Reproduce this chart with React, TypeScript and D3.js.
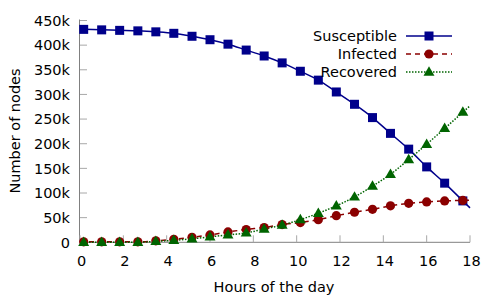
import React, { useRef, useEffect } from 'react';
import * as d3 from 'd3';

// hours at which each sample was taken
const hours = [0.17, 1.0, 1.83, 2.67, 3.5, 4.33, 5.17, 6.0, 6.83, 7.67, 8.5, 9.33,
  10.17, 11.0, 11.83, 12.67, 13.5, 14.33, 15.17, 16.0, 16.83, 17.67];

// node counts (thousands)
const susceptible = [432, 431, 430, 429, 427, 424, 418, 411, 402, 390, 378, 364,
  347, 329, 305, 280, 253, 221, 189, 153, 120, 84];
const infected = [1, 1, 1, 1, 3, 6, 10, 15, 21, 26, 30, 36,
  40, 46, 54, 61, 67, 74, 79, 82, 84, 85];
const recovered = [0, 0, 0, 0, 2, 4, 7, 11, 15, 19, 27, 35,
  46, 59, 74, 92, 114, 138, 168, 199, 231, 264];

const xTicks = [0, 2, 4, 6, 8, 10, 12, 14, 16, 18];
const yTicks = [0, 50, 100, 150, 200, 250, 300, 350, 400, 450];

const seriesNames = ['Susceptible', 'Infected', 'Recovered'];
const seriesColors = ['#00008b', '#8b0000', '#006400'];
const seriesDash = [null, '5,4', '1.5,1.5'];
const seriesMarker = ['square', 'circle', 'triangle'];

const App = () => {
  const svgRef = useRef<SVGSVGElement>(null);
  const width = 498;
  const height = 299;

  useEffect(() => {
    const svg = d3.select(svgRef.current);
    svg.selectAll('*').remove();

    const font = 'DejaVu Sans, sans-serif';
    const fs = 14.5;

    const x = d3.scaleLinear().domain([0, 18]).range([80, 470]);
    const y = d3.scaleLinear().domain([0, 450]).range([242.3, 20.5]);

    // axes (left and bottom only, ticks pointing inward)
    const axis = svg.append('g');
    axis.append('line')
      .attr('x1', x(0) - 0.5).attr('x2', x(0) - 0.5)
      .attr('y1', y(450) - 1).attr('y2', y(0))
      .attr('stroke', '#808080').attr('stroke-width', 1);
    axis.append('line')
      .attr('x1', x(0) - 0.5).attr('x2', x(18))
      .attr('y1', y(0)).attr('y2', y(0))
      .attr('stroke', '#808080').attr('stroke-width', 1);

    yTicks.forEach(t => {
      axis.append('line')
        .attr('x1', x(0)).attr('x2', x(0) + 7)
        .attr('y1', y(t)).attr('y2', y(t))
        .attr('stroke', '#a8a8a8').attr('stroke-width', 1);
      axis.append('text')
        .attr('x', 70).attr('y', y(t))
        .attr('dy', '0.36em')
        .attr('text-anchor', 'end')
        .attr('font-family', font).attr('font-size', fs)
        .attr('fill', '#000')
        .text(t === 0 ? '0' : `${t}k`);
    });

    xTicks.forEach(t => {
      axis.append('line')
        .attr('x1', x(t)).attr('x2', x(t))
        .attr('y1', y(0)).attr('y2', y(0) - 7)
        .attr('stroke', '#a8a8a8').attr('stroke-width', 1);
      axis.append('text')
        .attr('x', x(t) + 1.5).attr('y', 266)
        .attr('text-anchor', 'middle')
        .attr('font-family', font).attr('font-size', fs)
        .attr('fill', '#000')
        .text(t);
    });

    svg.append('text')
      .attr('x', 274).attr('y', 292)
      .attr('text-anchor', 'middle')
      .attr('font-family', font).attr('font-size', fs)
      .text('Hours of the day');

    svg.append('text')
      .attr('transform', `translate(20,131) rotate(-90)`)
      .attr('text-anchor', 'middle')
      .attr('font-family', font).attr('font-size', fs)
      .text('Number of nodes');

    const drawMarker = (g, kind, cx, cy, color) => {
      if (kind === 'square') {
        g.append('rect')
          .attr('x', cx - 4.5).attr('y', cy - 4.5)
          .attr('width', 9).attr('height', 9)
          .attr('fill', color);
      } else if (kind === 'circle') {
        g.append('circle')
          .attr('cx', cx).attr('cy', cy).attr('r', 4.6)
          .attr('fill', color);
      } else {
        const sym = d3.symbol().type(d3.symbolTriangle).size(52);
        g.append('path')
          .attr('transform', `translate(${cx},${cy + 0.5})`)
          .attr('d', sym())
          .attr('fill', color);
      }
    };

    const allSeries = [susceptible, infected, recovered];
    const plot = svg.append('g');

    allSeries.forEach((vals, si) => {
      const pts = hours.map((h, i) => [h, vals[i]]);
      // stretch the curve to both ends of the x range
      const n = pts.length;
      const s0 = (pts[1][1] - pts[0][1]) / (pts[1][0] - pts[0][0]);
      const s1 = (pts[n - 1][1] - pts[n - 2][1]) / (pts[n - 1][0] - pts[n - 2][0]);
      const lineData = [
        [0, Math.max(0, pts[0][1] - s0 * pts[0][0])],
        ...pts,
        [18, pts[n - 1][1] + s1 * (18 - pts[n - 1][0])]
      ];
      const line = d3.line()
        .x(d => x(d[0]))
        .y(d => y(d[1]))
        .curve(d3.curveMonotoneX);
      const path = plot.append('path')
        .datum(lineData)
        .attr('d', line)
        .attr('fill', 'none')
        .attr('stroke', seriesColors[si])
        .attr('stroke-width', 1.5);
      if (seriesDash[si]) path.attr('stroke-dasharray', seriesDash[si]);
    });

    allSeries.forEach((vals, si) => {
      const g = plot.append('g');
      vals.forEach((v, i) => drawMarker(g, seriesMarker[si], x(hours[i]), y(v), seriesColors[si]));
    });

    // legend
    const legend = svg.append('g');
    seriesNames.forEach((name, i) => {
      const ly = 36 + i * 18;
      legend.append('text')
        .attr('x', 397).attr('y', ly)
        .attr('dy', '0.36em')
        .attr('text-anchor', 'end')
        .attr('font-family', font).attr('font-size', fs)
        .text(name);
      const l = legend.append('line')
        .attr('x1', 406).attr('x2', 452)
        .attr('y1', ly).attr('y2', ly)
        .attr('stroke', seriesColors[i])
        .attr('stroke-width', 1.5);
      if (seriesDash[i]) l.attr('stroke-dasharray', seriesDash[i]);
      drawMarker(legend, seriesMarker[i], 429, ly, seriesColors[i]);
    });
  }, []);

  return (
    <svg ref={svgRef} width={width} height={height}
      style={{ position: 'absolute', left: 0, top: 0, background: '#fff' }} />
  );
};

export default App;
